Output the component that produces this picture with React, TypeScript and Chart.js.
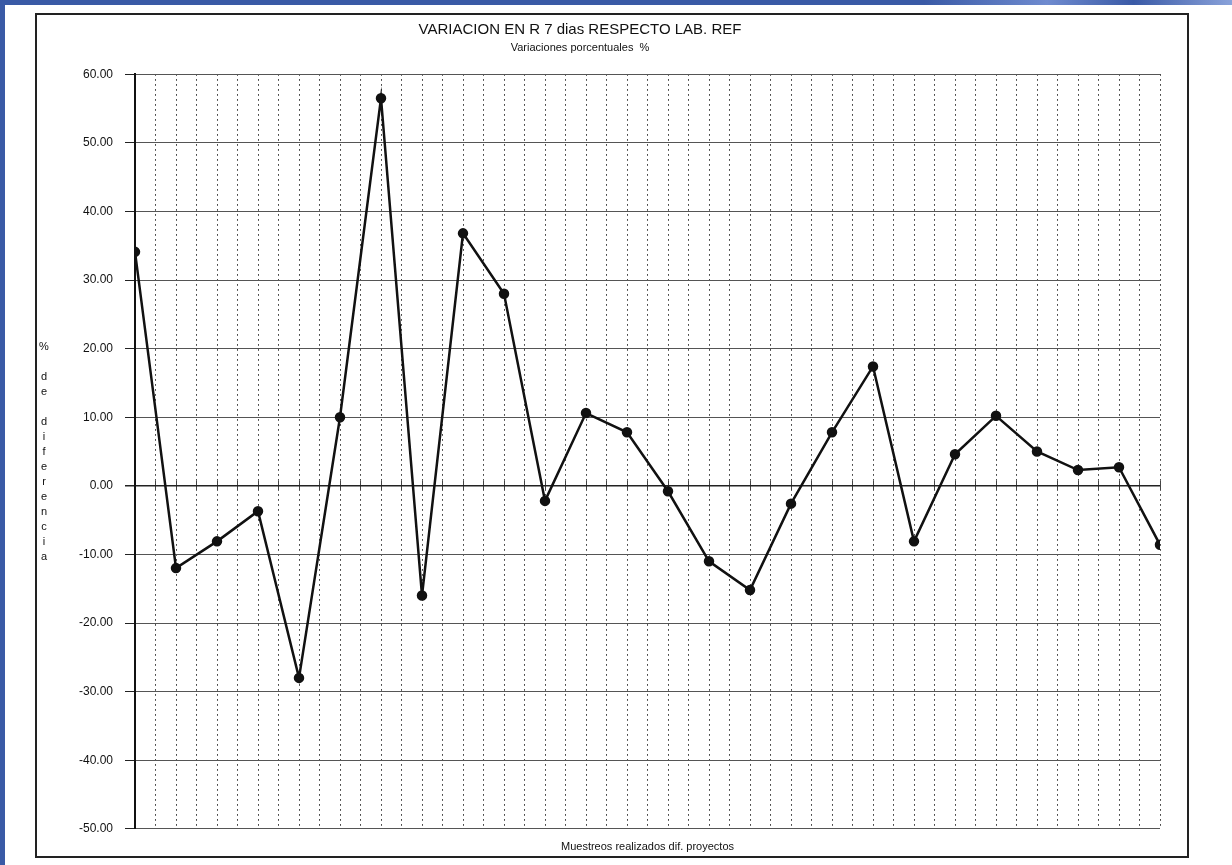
import React, { useEffect, useRef } from "react";
import { Chart, registerables } from "chart.js";

Chart.register(...registerables);

// ---- data ----
const samples = [1, 2, 3, 4, 5, 6, 7, 8, 9, 10, 11, 12, 13, 14, 15, 16, 17, 18, 19, 20, 21, 22, 23, 24, 25, 26];
const variation = [34.1, -12.0, -8.1, -3.7, -28.0, 10.0, 56.5, -16.0, 36.8, 28.0, -2.2, 10.6, 7.8, -0.8, -11.0, -15.2, -2.6, 7.8, 17.4, -8.1, 4.6, 10.2, 5.0, 2.3, 2.7, -8.6];
const yMin = -50;
const yMax = 60;
const yStep = 10;
const xGridStep = 0.5;

const chartTitle = "VARIACION EN R 7 dias RESPECTO LAB. REF";
const chartSubtitle = "Variaciones porcentuales  %";
const xAxisTitle = "Muestreos realizados dif. proyectos";
const yAxisTitle = "% de diferencia";

const FONT = '"Liberation Sans", Arial, Helvetica, sans-serif';

const stackedYTitle = {
  id: "stackedYTitle",
  afterDraw(chart: any) {
    const { ctx, chartArea } = chart;
    const chars = Array.from(yAxisTitle);
    const step = 15;
    const mid = (chartArea.top + chartArea.bottom) / 2;
    const start = mid - ((chars.length - 1) * step) / 2;
    ctx.save();
    ctx.font = `11px ${FONT}`;
    ctx.fillStyle = "#111";
    ctx.textAlign = "center";
    ctx.textBaseline = "middle";
    chars.forEach((c, i) => ctx.fillText(c, 44, start + i * step));
    ctx.restore();
  },
};

export default function App() {
  const canvasRef = useRef<HTMLCanvasElement | null>(null);

  useEffect(() => {
    if (!canvasRef.current) return;
    const points = samples.map((_, i) => ({ x: i, y: variation[i] }));
    const chart = new Chart(canvasRef.current, {
      type: "line",
      data: {
        datasets: [
          {
            data: points,
            borderColor: "#111",
            backgroundColor: "#111",
            borderWidth: 2.5,
            pointRadius: 4,
            pointHoverRadius: 4,
            pointBackgroundColor: "#111",
            pointBorderColor: "#111",
            tension: 0,
            fill: false,
          },
        ],
      },
      options: {
        animation: false,
        responsive: true,
        maintainAspectRatio: false,
        layout: { padding: { top: 0, left: 0, right: 72, bottom: 11 } },
        plugins: {
          legend: { display: false },
          tooltip: { enabled: false },
          title: {
            display: true,
            text: chartTitle,
            color: "#111",
            font: { family: FONT, size: 15, weight: "normal" },
            padding: { top: 21, bottom: 2 },
          },
          subtitle: {
            display: true,
            text: chartSubtitle,
            color: "#111",
            font: { family: FONT, size: 11, weight: "normal" },
            padding: { top: 0, bottom: 20 },
          },
        },
        scales: {
          x: {
            type: "linear",
            position: "bottom",
            min: 0,
            max: samples.length - 1,
            ticks: { display: false, stepSize: xGridStep, autoSkip: false },
            grid: { color: "#222", lineWidth: 1, drawTicks: false },
            border: { display: false, dash: [1.5, 3.5] },
            title: {
              display: true,
              text: xAxisTitle,
              color: "#111",
              font: { family: FONT, size: 11 },
              padding: { top: 12, bottom: 0 },
            },
          },
          x2: {
            type: "linear",
            axis: "x",
            position: { y: 0.7 },
            min: 0,
            max: samples.length - 1,
            ticks: { display: false, stepSize: xGridStep, autoSkip: false },
            grid: { drawOnChartArea: false, drawTicks: true, tickLength: 9, tickColor: "#444", tickWidth: 1 },
            border: { display: false },
          },
          y: {
            type: "linear",
            min: yMin,
            max: yMax,
            afterFit(scale: any) {
              scale.width = 135;
            },
            ticks: {
              stepSize: yStep,
              color: "#111",
              font: { family: FONT, size: 12 },
              padding: 12,
              callback: (v: any) => Number(v).toFixed(2),
            },
            grid: {
              color: (ctx: any) => (ctx.tick && ctx.tick.value === 0 ? "#222" : "#555"),
              lineWidth: (ctx: any) => (ctx.tick && ctx.tick.value === 0 ? 1.5 : 1),
              drawTicks: true,
              tickLength: 10,
              tickColor: "#222",
            },
            border: { display: true, color: "#111", width: 2 },
          },
        },
      },
      plugins: [stackedYTitle],
    });
    return () => chart.destroy();
  }, []);

  return (
    <div
      style={{
        position: "fixed",
        left: 0,
        top: 0,
        width: 1232,
        height: 865,
        background: "#fff",
        overflow: "hidden",
      }}
    >
      <div style={{ position: "absolute", left: 0, top: 0, width: 5, height: 865, background: "#3a5aa6" }} />
      <div
        style={{
          position: "absolute",
          left: 0,
          top: 0,
          width: 1232,
          height: 5,
          background: "linear-gradient(90deg, #3a5aa6 0%, #3a5aa6 75%, #6f8bcf 85%, #3a5aa6 92%, #8aa2da 100%)",
        }}
      />
      <div
        style={{
          position: "absolute",
          left: 35,
          top: 13,
          width: 1154,
          height: 845,
          border: "2px solid #222",
          boxSizing: "border-box",
        }}
      />
      <div style={{ position: "absolute", left: 0, top: 0, width: 1232, height: 865 }}>
        <canvas ref={canvasRef} />
      </div>
    </div>
  );
}
